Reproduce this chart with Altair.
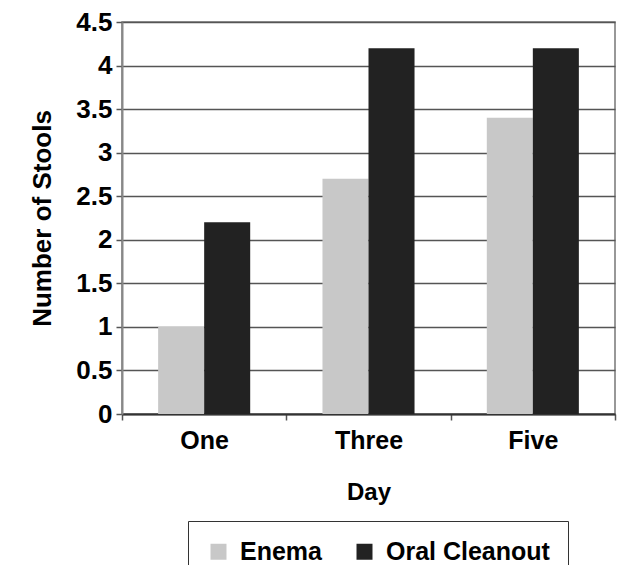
import altair as alt
import pandas as pd

days = ["One", "Three", "Five"]
groups = ["Enema", "Oral Cleanout"]
enema = [1.0, 2.7, 3.4]
oral = [2.2, 4.2, 4.2]
y_ticks = [0, 0.5, 1, 1.5, 2, 2.5, 3, 3.5, 4, 4.5]

rows = []
for d, e, o in zip(days, enema, oral):
    rows.append({"Day": d, "Group": groups[0], "Stools": e})
    rows.append({"Day": d, "Group": groups[1], "Stools": o})
df = pd.DataFrame(rows)

FONT = "Liberation Sans"

chart = alt.Chart(df).mark_bar().encode(
    x=alt.X("Day:N", sort=days,
            scale=alt.Scale(paddingInner=0, paddingOuter=0),
            axis=alt.Axis(title="Day", labelAngle=0, tickBand="extent",
                          labelFontSize=25, labelFont=FONT, labelFontWeight="bold",
                          labelColor="black", titleFontSize=24, titleFont=FONT,
                          titleFontWeight="bold", titleColor="black",
                          titlePadding=27, labelPadding=8, tickSize=6,
                          tickColor="#555", tickWidth=1.5,
                          domainColor="#333", domainWidth=2)),
    xOffset=alt.XOffset("Group:N", sort=groups,
                        scale=alt.Scale(paddingOuter=0.785, paddingInner=0)),
    y=alt.Y("Stools:Q", scale=alt.Scale(domain=[0, 4.5]),
            axis=alt.Axis(title="Number of Stools", values=y_ticks, format="~g",
                          labelFontSize=26, labelFont=FONT, labelFontWeight="bold",
                          labelColor="black", titleFontSize=26, titleFont=FONT,
                          titleFontWeight="bold", titleColor="black",
                          titlePadding=20, labelPadding=4, tickSize=6,
                          tickColor="#555", tickWidth=1.5,
                          domainColor="#888", domainWidth=2,
                          gridColor="#555", gridWidth=1.5)),
    color=alt.Color("Group:N", sort=groups,
                    scale=alt.Scale(domain=groups, range=["#c8c8c8", "#222222"]),
                    legend=alt.Legend(title=None, orient="none", legendX=66, legendY=499,
                                      direction="horizontal", symbolType="square",
                                      symbolSize=256, symbolStrokeWidth=0,
                                      labelFontSize=25, labelFont=FONT,
                                      labelFontWeight="bold", labelColor="black",
                                      labelOffset=9, columnPadding=30, padding=18,
                                      strokeColor="#333", labelLimit=300)),
).properties(
    width=493, height=392,
    autosize=alt.AutoSizeParams(type="none"),
    padding={"left": 114, "top": 14, "right": 5, "bottom": 170},
).configure_view(stroke="#777", strokeWidth=1.5)

chart.save("out.html", embed_options={"renderer": "svg", "actions": False})
